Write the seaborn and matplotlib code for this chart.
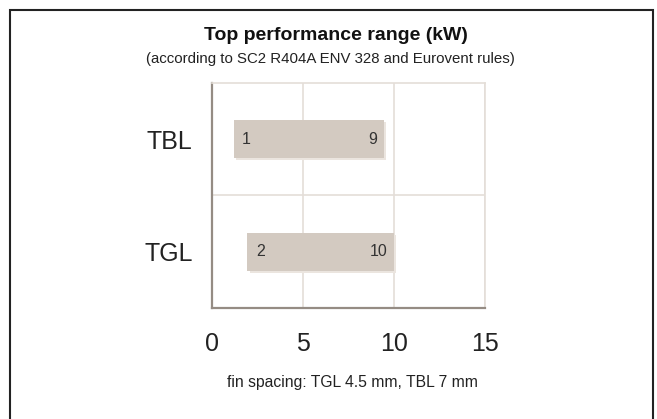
import matplotlib
matplotlib.use("Agg")
import matplotlib.pyplot as plt
import matplotlib.patheffects as pe
from matplotlib.patches import Rectangle
import seaborn as sns
import pandas as pd

# data
models = ["TBL", "TGL"]
range_start = [1.2, 1.95]
range_end = [9.45, 10.0]
start_labels = ["1", "2"]
end_labels = ["9", "10"]
x_ticks = [0, 5, 10, 15]

df = pd.DataFrame({"model": models, "start": range_start, "end": range_end})
df["span"] = df["end"] - df["start"]

sns.set_style("white")
plt.rcParams["font.family"] = ["Liberation Sans", "DejaVu Sans"]

bar_color = "#d3cac1"
grid_color = "#e4ded8"
spine_color = "#958c84"

fig = plt.figure(figsize=(6.57, 4.19), dpi=100)
ax = fig.add_axes([212 / 657, 1 - 308 / 419, 273 / 657, 225 / 419])

sns.barplot(data=df, x="span", y="model", left=df["start"].to_numpy(),
            color=bar_color, saturation=1, width=0.34, ax=ax,
            linewidth=0, edgecolor="none")

# soft drop shadow under the bars
for bar in ax.patches:
    bar.set_path_effects([
        pe.SimplePatchShadow(offset=(1.5, -1.5), shadow_rgbFace="#ebe5df", alpha=1),
        pe.Normal(),
    ])

# value labels at both ends of each bar
for i, row in df.iterrows():
    ax.annotate(start_labels[i], (row["start"], i), xytext=(6, 0),
                textcoords="offset points", ha="left", va="center",
                fontsize=11.5, color="#333333")
    ax.annotate(end_labels[i], (row["end"], i), xytext=(-5, 0),
                textcoords="offset points", ha="right", va="center",
                fontsize=11.5, color="#333333")

ax.set_xlim(0, 15)
ax.set_ylim(1.5, -0.5)
ax.set_xticks(x_ticks)
ax.set_yticks([0.5], minor=True)
ax.grid(axis="x", color=grid_color, linewidth=1.2)
ax.grid(axis="y", which="minor", color=grid_color, linewidth=1.2)
ax.set_axisbelow(True)
ax.set_xlabel("")
ax.set_ylabel("")
ax.tick_params(axis="x", length=0, pad=17, labelsize=18, colors="#222222")
ax.tick_params(axis="y", which="both", length=0, pad=14, labelsize=18, colors="#222222")

for side in ["top", "right"]:
    ax.spines[side].set_color(grid_color)
    ax.spines[side].set_linewidth(1.2)
for side in ["left", "bottom"]:
    ax.spines[side].set_color(spine_color)
    ax.spines[side].set_linewidth(1.6)

fig.text(336 / 657, 1 - 35 / 419, "Top performance range (kW)", ha="center",
         va="center", fontsize=14, fontweight="bold", color="#111111")
fig.text(330 / 657, 1 - 59 / 419,
         "(according to SC2 R404A ENV 328 and Eurovent rules)", ha="center",
         va="center", fontsize=10.8, color="#222222")
fig.text(352 / 657, 1 - 382 / 419, "fin spacing: TGL 4.5 mm, TBL 7 mm",
         ha="center", va="center", fontsize=11.3, color="#222222")

# outer frame
fig.patches.append(Rectangle((10 / 657, -0.05), 643 / 657, 1.05 - 10 / 419,
                             transform=fig.transFigure, fill=False,
                             edgecolor="#222222", linewidth=1.5))

fig.savefig("out.png", dpi=100)
